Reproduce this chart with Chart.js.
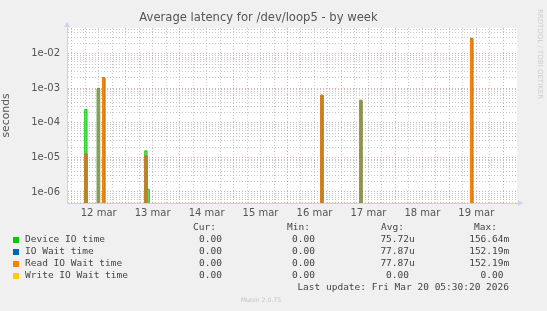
<!DOCTYPE html>
<html>
<head>
<meta charset="utf-8">
<title>Average latency for /dev/loop5 - by week</title>
<script src="https://cdn.jsdelivr.net/npm/chart.js@4.4.1/dist/chart.umd.min.js"></script>
<style>
  html, body { margin: 0; padding: 0; background: #f0f0f0; }
  #wrap { width: 547px; height: 311px; }
</style>
</head>
<body>
<div id="wrap"><canvas id="chart-latency" width="547" height="311"></canvas></div>
<script>
// hours counted from 12 mar 00:00; each spike is one hour-wide sample with zeros either side
const sampleHours = [-2.1, 5.3, 6.3, 7.3, 10.9, 11.9, 12.9, 13.2, 14.2, 15.2, 32.0, 33.0, 34.0, 35.0,
                     110.25, 111.25, 112.25, 127.6, 128.6, 129.6, 176.9, 177.9, 178.9, 198.1];
const deviceIO    = [0, 0, 2.45e-4, 0, 0, 1.0e-3, 0, 0, 1.9e-3, 0, 0, 1.55e-5, 1.2e-6, 0,
                     0, 6.0e-4, 0, 0, 4.2e-4, 0, 0, 2.8e-2, 0, 0];
const ioWait      = [0, 0, 1.26e-5, 0, 0, 0.95e-3, 0, 0, 2.05e-3, 0, 0, 1.1e-5, 0, 0,
                     0, 6.3e-4, 0, 0, 4.5e-4, 0, 0, 2.7e-2, 0, 0];
const readIOWait  = [0, 0, 1.26e-5, 0, 0, 0.95e-3, 0, 0, 2.05e-3, 0, 0, 1.1e-5, 0, 0,
                     0, 6.3e-4, 0, 0, 4.5e-4, 0, 0, 2.7e-2, 0, 0];
const writeIOWait = [0, 0, 0, 0, 0, 0, 0, 0, 0, 0, 0, 0, 0, 0,
                     0, 0, 0, 0, 0, 0, 0, 0, 0, 0];

const dayLabels = ['12 mar', '13 mar', '14 mar', '15 mar', '16 mar', '17 mar', '18 mar', '19 mar'];
const decades = [-7, -6, -5, -4, -3, -2];

const seriesNames  = ['Device IO time', 'IO Wait time', 'Read IO Wait time', 'Write IO Wait time'];
const seriesColors = ['#00cc00', '#0066b3', '#ff8000', '#ffcc00'];
const curValues = ['0.00', '0.00', '0.00', '0.00'];
const minValues = ['0.00', '0.00', '0.00', '0.00'];
const avgValues = [['75.72', 'u'], ['77.87', 'u'], ['77.87', 'u'], ['0.00', '']];
const maxValues = [['156.64', 'm'], ['152.19', 'm'], ['152.19', 'm'], ['0.00', '']];
const lastUpdate = 'Last update: Fri Mar 20 05:30:20 2026';

const yMin = 4.8e-7, yMax = 0.056;
const xMin = -2.1, xMax = 198.1;

// zero can't go on a log axis, push it just under the floor so it gets clipped
function points(values) {
    return values.map(function (v, i) { return {x: sampleHours[i], y: v > 0 ? v : yMin / 10}; });
}

const fills = ['rgba(0,204,0,0.5)', 'rgba(0,102,179,0.35)', 'rgba(255,128,0,0.35)', 'rgba(0,0,0,0)'];
const allSeries = [deviceIO, ioWait, readIOWait, writeIOWait];

const datasets = allSeries.map(function (vals, i) {
    return {
        label: seriesNames[i],
        data: points(vals),
        borderColor: seriesColors[i],
        backgroundColor: fills[i],
        borderWidth: 1,
        pointRadius: 0,
        stepped: 'middle',
        fill: i < 3 ? 'start' : false,
        order: 4 - i
    };
});

const MONO = '"DejaVu Sans Mono", monospace';
const SANS = '"DejaVu Sans", sans-serif';

// background, arrows, vertical credit, legend table
const muninDecor = {
    id: 'muninDecor',
    beforeDraw: function (chart) {
        const c = chart.ctx, a = chart.chartArea;
        c.save();
        c.fillStyle = '#f0f0f0';
        c.fillRect(0, 0, chart.width, chart.height);
        c.fillStyle = '#ffffff';
        c.fillRect(a.left, a.top, a.right - a.left, a.bottom - a.top);
        c.restore();
    },
    afterDraw: function (chart) {
        const c = chart.ctx, a = chart.chartArea;
        c.save();
        // axis arrows
        c.fillStyle = '#ccd4f0';
        c.beginPath();
        c.moveTo(a.left - 3, a.top - 1);
        c.lineTo(a.left + 3, a.top - 1);
        c.lineTo(a.left, a.top - 6);
        c.closePath();
        c.fill();
        c.beginPath();
        c.moveTo(a.right + 1, a.bottom - 3);
        c.lineTo(a.right + 1, a.bottom + 3);
        c.lineTo(a.right + 6, a.bottom);
        c.closePath();
        c.fill();

        // rrdtool credit
        c.translate(540, 54);
        c.rotate(Math.PI / 2);
        c.fillStyle = '#cfcfcf';
        c.font = '7px ' + SANS;
        c.textAlign = 'center';
        c.textBaseline = 'middle';
        c.fillText('RRDTOOL / TOBI OETIKER', 0, 0);
        c.setTransform(1, 0, 0, 1, 0, 0);

        // legend table
        c.font = '9.5px ' + MONO;
        c.textBaseline = 'middle';
        c.fillStyle = '#444';
        c.textAlign = 'left';
        c.fillText('Cur:', 193, 228);
        c.fillText('Min:', 287, 228);
        c.fillText('Avg:', 381, 228);
        c.fillText('Max:', 474, 228);
        for (let i = 0; i < seriesNames.length; i++) {
            const y = 239.5 + i * 12;
            c.fillStyle = seriesColors[i];
            c.fillRect(13, Math.round(y) - 3, 6, 6);
            c.fillStyle = '#444';
            c.textAlign = 'left';
            c.fillText(seriesNames[i], 25, y);
            c.textAlign = 'right';
            c.fillText(curValues[i], 222, y);
            c.fillText(minValues[i], 315, y);
            c.fillText(avgValues[i][0], 409, y);
            c.fillText(maxValues[i][0], 503.5, y);
            c.textAlign = 'left';
            c.fillText(avgValues[i][1], 409, y);
            c.fillText(maxValues[i][1], 503.5, y);
        }
        c.textAlign = 'right';
        c.fillText(lastUpdate, 509, 287.5);

        c.font = '6.2px ' + SANS;
        c.fillStyle = '#c4c4c4';
        c.textAlign = 'center';
        c.fillText('Munin 2.0.75', 261, 300);
        c.restore();
    }
};

new Chart(document.getElementById('chart-latency'), {
    type: 'line',
    data: {datasets: datasets},
    plugins: [muninDecor],
    options: {
        responsive: false,
        animation: false,
        events: [],
        layout: {padding: {left: 0, right: 30, top: 0, bottom: 88}},
        plugins: {
            legend: {display: false},
            tooltip: {enabled: false},
            title: {
                display: true,
                text: 'Average latency for /dev/loop5 - by week',
                color: '#555',
                font: {family: SANS, size: 11.6, weight: 'normal'},
                padding: {top: 11, bottom: 3}
            }
        },
        scales: {
            x: {
                type: 'linear',
                min: xMin,
                max: xMax,
                afterBuildTicks: function (scale) {
                    const t = [];
                    for (let h = 0; h <= 192; h += 6) t.push({value: h});
                    scale.ticks = t;
                },
                afterFit: function (scale) { scale.height = 20; },
                ticks: {
                    autoSkip: false,
                    maxRotation: 0,
                    padding: 4,
                    color: '#555',
                    font: {family: SANS, size: 10},
                    callback: function (v) {
                        return v % 24 === 12 ? dayLabels[(v - 12) / 24] : '';
                    }
                },
                grid: {
                    drawTicks: false,
                    color: function (ctx) {
                        return ctx.tick && ctx.tick.value % 24 === 0 ? 'rgba(222,140,140,0.75)' : 'rgba(180,180,180,0.75)';
                    }
                },
                border: {color: '#e2d3a0', width: 1, dash: [1, 2]}
            },
            y: {
                type: 'logarithmic',
                min: yMin,
                max: yMax,
                afterBuildTicks: function (scale) {
                    const t = [];
                    decades.forEach(function (e) {
                        for (let m = 1; m <= 9; m++) {
                            const v = m * Math.pow(10, e);
                            if (v >= yMin && v <= yMax) t.push({value: v, major: m === 1});
                        }
                    });
                    scale.ticks = t;
                },
                afterFit: function (scale) { scale.width = 67; },
                ticks: {
                    autoSkip: false,
                    padding: 7,
                    color: '#555',
                    font: {family: SANS, size: 10},
                    callback: function (v) {
                        const e = Math.round(Math.log10(v));
                        if (Math.abs(v / Math.pow(10, e) - 1) > 1e-6) return '';
                        return '1e-' + String(-e).padStart(2, '0');
                    }
                },
                grid: {
                    drawTicks: false,
                    color: function (ctx) {
                        if (!ctx.tick) return 'rgba(180,180,180,0.75)';
                        const v = ctx.tick.value;
                        const e = Math.round(Math.log10(v));
                        return Math.abs(v / Math.pow(10, e) - 1) < 1e-6 ? 'rgba(222,140,140,0.75)' : 'rgba(180,180,180,0.75)';
                    }
                },
                title: {
                    display: true,
                    text: 'seconds',
                    color: '#555',
                    font: {family: SANS, size: 10.8},
                    padding: {top: 0, bottom: 0}
                },
                border: {color: '#ccd4f0', width: 1, dash: [1, 2]}
            }
        }
    }
});
</script>
</body>
</html>
